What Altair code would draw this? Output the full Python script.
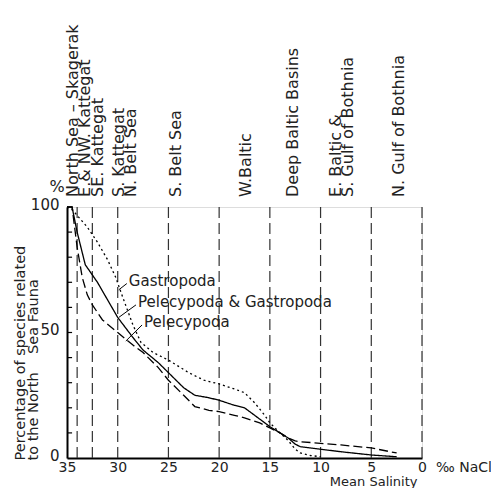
import altair as alt
import pandas as pd

FONT = "DejaVu Sans"
INK = "#222222"

# ---- data ----
gastro_s = [35, 34.5, 33, 32, 31, 30.2, 29.5, 28.5, 27.7, 26.5, 25, 23, 21.5, 20, 18.5, 17.5, 16.5, 15.5, 15, 14, 13.2, 12.5, 12, 11, 10]
gastro_p = [100, 99, 92, 86, 79, 72, 64, 53, 46, 42, 39, 34, 31, 29.5, 27.5, 26, 22, 17, 14, 10, 7, 3.5, 2, 1, 0.5]

both_s = [35, 34.5, 34, 33.2, 32, 31, 30, 28.5, 27.5, 26, 25, 23.5, 22.4, 21, 20, 18.5, 17.5, 16.5, 15.5, 15, 14, 13.2, 12.5, 12, 8, 5, 2.5]
both_p = [100, 100, 90, 77, 70, 63, 56, 48, 43, 38, 34, 28, 25, 24, 23, 21, 20, 17, 14, 12.5, 10, 8, 5.5, 4.5, 2.5, 1.2, 0.5]

pelec_s = [35, 34.5, 34, 33.5, 33, 32.5, 31.5, 30, 28.5, 27.5, 26, 25, 23.5, 22.4, 21, 20, 18.5, 17.5, 16, 15, 14, 13.2, 12.5, 12, 8, 5, 2.5]
pelec_p = [100, 100, 84, 72, 65, 61, 55, 50, 45, 42, 36, 31, 25, 20.5, 19, 18.5, 17, 16, 14, 12, 10, 8, 6.8, 6.5, 5.2, 4, 2]

series_names = ["Gastropoda", "Pelecypoda & Gastropoda", "Pelecypoda"]

boundaries = [34, 32.5, 30, 25, 20, 15, 10, 5, 0]

region_names = ["North Sea \u2013 Skagerak", "E.& NW. Kattegat", "SE. Kattegat", "S. Kattegat",
                "N. Belt Sea", "S. Belt Sea", "W.Baltic", "Deep Baltic Basins", "E. Baltic &",
                "S. Gulf of Bothnia", "N. Gulf of Bothnia"]
region_x = [34.45, 33.2, 31.95, 29.9, 28.7, 24.3, 17.4, 12.7, 8.5, 7.3, 2.3]

minor_ticks = [10, 20, 30, 40, 50, 60, 70, 80, 90]
x_tick_values = [35, 30, 25, 20, 15, 10, 5, 0]
y_tick_values = [0, 50, 100]

ann_labels = ["Gastropoda", "Pelecypoda & Gastropoda", "Pelecypoda"]
ann_text_s = [29.0, 28.1, 27.5]
ann_text_p = [70.5, 62.0, 54.0]
ann_from_s = [29.1, 28.2, 27.6]
ann_from_p = [69.5, 61.0, 53.0]
ann_to_s = [29.9, 29.9, 29.2]
ann_to_p = [67.0, 56.0, 46.6]

# ---- tables ----
rows = []
for name, xs, ys in zip(series_names, [gastro_s, both_s, pelec_s], [gastro_p, both_p, pelec_p]):
    for i, (a, b) in enumerate(zip(xs, ys)):
        rows.append({"series": name, "sal": a, "pct": b, "order": i})
curves = pd.DataFrame(rows)
bounds = pd.DataFrame({"sal": boundaries, "lo": [0] * len(boundaries), "hi": [100] * len(boundaries)})
regions = pd.DataFrame({"name": region_names, "sal": region_x})
ticks = pd.DataFrame({"pct": minor_ticks})
ann = pd.DataFrame({"label": ann_labels, "ts": ann_text_s, "tp": ann_text_p,
                    "fs": ann_from_s, "fp": ann_from_p, "es": ann_to_s, "ep": ann_to_p})

xscale = alt.Scale(domain=[0, 35], reverse=True, nice=False, zero=False)
yscale = alt.Scale(domain=[0, 100], nice=False)

xaxis = alt.Axis(values=x_tick_values, format="d", ticks=False, grid=False,
                 domainColor="black", domainWidth=2, labelFont=FONT, labelFontSize=14,
                 labelColor=INK, labelPadding=2, labelFlush=False,
                 title="Mean Salinity", titleFont=FONT, titleFontSize=13, titleFontWeight="normal",
                 titleColor=INK, titleAlign="right", titleAnchor="end", titleX=350, titleY=23,
                 titleBaseline="middle")
yaxis = alt.Axis(values=y_tick_values, ticks=False, grid=False,
                 domainColor="black", domainWidth=2, labelFont=FONT, labelFontSize=15,
                 labelColor=INK, labelPadding=8, labelFlush=False, labelOffset=-3,
                 title=["Percentage of species related", "to the North\u00a0\u00a0\u00a0\u00a0Sea Fauna"],
                 titleFont=FONT, titleFontSize=14.5, titleFontWeight="normal", titleColor=INK,
                 titleAngle=270, titleAlign="left", titleAnchor="start", titleBaseline="middle",
                 titleX=-47, titleY=253, titleLineHeight=13.5)

vlines = alt.Chart(bounds).mark_rule(color="#333333", strokeWidth=1.2, strokeDash=[11, 5]).encode(
    x=alt.X("sal:Q", scale=xscale, axis=xaxis),
    y=alt.Y("lo:Q", scale=yscale, axis=yaxis),
    y2="hi:Q",
)

minor = alt.Chart(ticks).mark_rule(color="black", strokeWidth=1.2).encode(
    x=alt.datum(35, scale=xscale),
    x2=alt.datum(34.5),
    y=alt.Y("pct:Q", scale=yscale),
)

lines = alt.Chart(curves).mark_line(color="black", strokeWidth=1.3).encode(
    x=alt.X("sal:Q", scale=xscale),
    y=alt.Y("pct:Q", scale=yscale),
    order="order:Q",
    detail="series:N",
    strokeDash=alt.StrokeDash("series:N", scale=alt.Scale(domain=series_names,
                              range=[[2, 3], [1, 0], [9, 4]]), legend=None),
)

ann_text = alt.Chart(ann).mark_text(font=FONT, fontSize=15, color=INK, align="left", baseline="middle", dx=1).encode(
    x=alt.X("ts:Q", scale=xscale),
    y=alt.Y("tp:Q", scale=yscale),
    text="label:N",
)
ann_lead = alt.Chart(ann).mark_rule(color="black", strokeWidth=1).encode(
    x=alt.X("fs:Q", scale=xscale), x2="es:Q",
    y=alt.Y("fp:Q", scale=yscale), y2="ep:Q",
)

region_text = alt.Chart(regions).mark_text(font=FONT, fontSize=16, color=INK, angle=270,
                                           align="left", baseline="middle").encode(
    x=alt.X("sal:Q", scale=xscale),
    y=alt.datum(104, scale=yscale),
    text="name:N",
)

pct_text = alt.Chart(pd.DataFrame({"t": ["%"]})).mark_text(font=FONT, fontSize=16, color=INK,
                                                          dx=-10, dy=-20).encode(
    x=alt.datum(35, scale=xscale), y=alt.datum(100, scale=yscale), text="t:N")
unit_text = alt.Chart(pd.DataFrame({"t": ["\u2030 NaCl"]})).mark_text(font=FONT, fontSize=14, color=INK,
                                                                     align="left", baseline="middle",
                                                                     dx=14, dy=10).encode(
    x=alt.datum(0, scale=xscale), y=alt.datum(0, scale=yscale), text="t:N")

chart = alt.layer(vlines, minor, lines, ann_lead, ann_text, region_text, pct_text, unit_text).properties(
    width=355, height=251,
    autosize=alt.AutoSizeParams(type="none"),
    padding={"left": 59, "top": 199, "right": 69, "bottom": 30},
).configure_view(stroke=None).configure(background="white")

chart.save("out.html", embed_options={"renderer": "svg", "actions": False})
